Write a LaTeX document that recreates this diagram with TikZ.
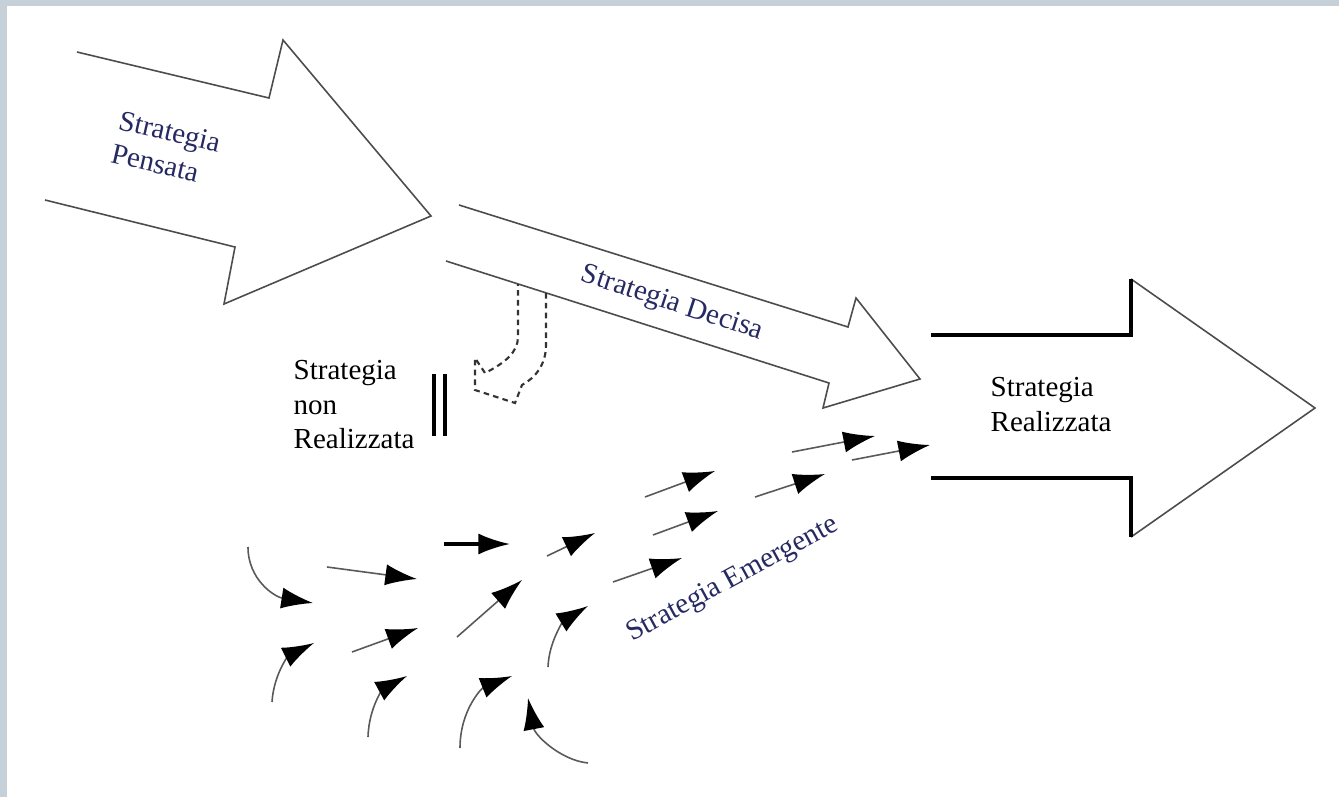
\documentclass[tikz,border=0pt]{standalone}
\usepackage{fontspec}
\setmainfont{Liberation Serif}
\newfontfamily\timesfont{Liberation Serif}
\usepackage{tikz}
\usetikzlibrary{arrows.meta}
\definecolor{framegrey}{RGB}{197,208,216}
\definecolor{txtblue}{RGB}{38,42,98}
\tikzset{
	outline/.style={draw=black!70, line width=0.45pt},
	thickline/.style={draw=black, line width=0.9pt},
	dotline/.style={draw=black!80, line width=0.6pt, dash pattern=on 1.6pt off 1.2pt},
	txt/.style={inner sep=0pt, font=\timesfont\fontsize{8.25}{9.7}\selectfont},
	sketch/.style={draw=black!65, line width=0.45pt, -{Latex[length=9pt,width=6pt,black]}}
}

\begin{document}
\begin{tikzpicture}[x=0.01cm, y=-0.01cm]
				\useasboundingbox (0,0) rectangle (1339,797);
				\fill[framegrey] (0,0) rectangle (1339,797);
				\fill[white] (7,6) rectangle (1339,797);
				% big arrows
				\draw[outline] (77,52) -- (269,98) -- (283,40) -- (431,216) -- (224,304) -- (235,247) -- (45,200);
				\draw[outline] (459,205) -- (848,327) -- (856,298) -- (920,379) -- (823,408) -- (829,383) -- (446,261);
				\draw[outline] (1131,279) -- (1315,408) -- (1131,537);
				\draw[thickline] (931,335) -- (1131,335) -- (1131,279);
				\draw[thickline] (931,478) -- (1131,478) -- (1131,537);
				\foreach \bx in {434,445} {
					\draw[thickline] (\bx,374) -- (\bx,436);
				}
				\draw[dotline] (546,293) -- (546,345) .. controls (546,365) and (535,378) .. (522,385) -- (515,403) -- (475,390) -- (475,358) -- (485,373) .. controls (505,363) and (518,352) .. (518,337) -- (518,284);
				% labels
				\node[txt, text=txtblue, align=left, rotate=-13] (pensata) at (166,148) {Strategia\\Pensata};
				\node[txt, text=txtblue, rotate=-18] (decisa) at (672,304) {Strategia Decisa};
				\node[txt, text=txtblue, rotate=28.5] (emergente) at (733,580) {Strategia Emergente};
				\node[txt, align=left, anchor=north west] (nonreal) at (293,360) {Strategia\\non\\Realizzata};
				\node[txt, align=left, anchor=north west] (realizzata) at (990,377) {Strategia\\Realizzata};
				% small arrows
				\foreach \ax/\ay/\bx/\by in {327/567/417/579, 547/556/595/533, 457/637/522/580, 352/652/418/628, 613/582/682/558, 653/535/718/511, 645/497/715/471, 755/497/825/474, 792/452/875/436, 852/460/930/445} {
					\draw[sketch] (\ax,\ay) -- (\bx,\by);
				}
				\draw[sketch, draw=black, line width=0.9pt] (444,544) -- (510,544);
				\draw[sketch] (248,547) .. controls (248,580) and (275,597) .. (313,603);
				\draw[sketch] (272,702) .. controls (274,672) and (290,655) .. (314,643);
				\draw[sketch] (368,737) .. controls (369,705) and (385,688) .. (407,676);
				\draw[sketch] (460,748) .. controls (460,710) and (482,688) .. (512,676);
				\draw[sketch] (548,667) .. controls (549,640) and (565,620) .. (588,606);
				\draw[sketch] (588,763) .. controls (560,760) and (535,735) .. (528,698);
			\end{tikzpicture}
\end{document}
